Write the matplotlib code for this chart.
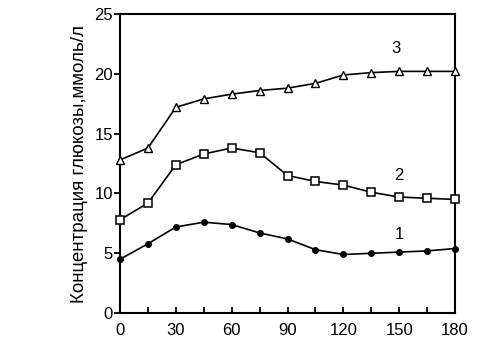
import matplotlib
matplotlib.use("Agg")
import matplotlib.pyplot as plt

plt.rcParams["font.family"] = ["Liberation Sans", "DejaVu Sans"]

# time, min
time_min = [0, 15, 30, 45, 60, 75, 90, 105, 120, 135, 150, 165, 180]

# glucose concentration, mmol/l
curve_1 = [4.5, 5.8, 7.2, 7.6, 7.4, 6.7, 6.2, 5.3, 4.9, 5.0, 5.1, 5.2, 5.4]
curve_2 = [7.8, 9.2, 12.4, 13.3, 13.8, 13.4, 11.5, 11.0, 10.7, 10.1, 9.7, 9.6, 9.5]
curve_3 = [12.8, 13.8, 17.2, 17.9, 18.3, 18.6, 18.8, 19.2, 19.9, 20.1, 20.2, 20.2, 20.2]

curve_labels = ["1", "2", "3"]
x_ticks = [0, 30, 60, 90, 120, 150, 180]
y_ticks = [0, 5, 10, 15, 20, 25]

fig = plt.figure(figsize=(4.92, 3.40), dpi=100)
ax = fig.add_axes([0.244, 0.079, 0.681, 0.880])

ax.plot(time_min, curve_1, color="black", lw=1.2, marker="o", ms=4,
        mfc="black", mec="black", clip_on=False, zorder=3)
ax.plot(time_min, curve_2, color="black", lw=1.2, marker="s", ms=6,
        mfc="white", mec="black", mew=1.1, clip_on=False, zorder=3)
ax.plot(time_min, curve_3, color="black", lw=1.2, marker="^", ms=6,
        mfc="white", mec="black", mew=1.0, clip_on=False, zorder=3)

# curve numbers
ax.text(148, 22.1, curve_labels[2], fontsize=12, ha="center", va="center")
ax.text(150, 11.5, curve_labels[1], fontsize=12, ha="center", va="center")
ax.text(150, 6.6, curve_labels[0], fontsize=12, ha="center", va="center")

ax.set_xlim(0, 180)
ax.set_ylim(0, 25)
ax.set_xticks(x_ticks)
ax.set_xticks(time_min, minor=True)
ax.set_yticks(y_ticks)
ax.tick_params(axis="x", which="both", direction="in", length=4, width=1.3,
               labelsize=12, pad=7)
ax.tick_params(axis="y", direction="out", length=4, width=1.3, labelsize=12, pad=1)

for sp in ax.spines.values():
    sp.set_linewidth(1.5)

ax.set_ylabel("Концентрация глюкозы,ммоль/л", fontsize=13.5, labelpad=5)

fig.savefig("out.png", dpi=100)
